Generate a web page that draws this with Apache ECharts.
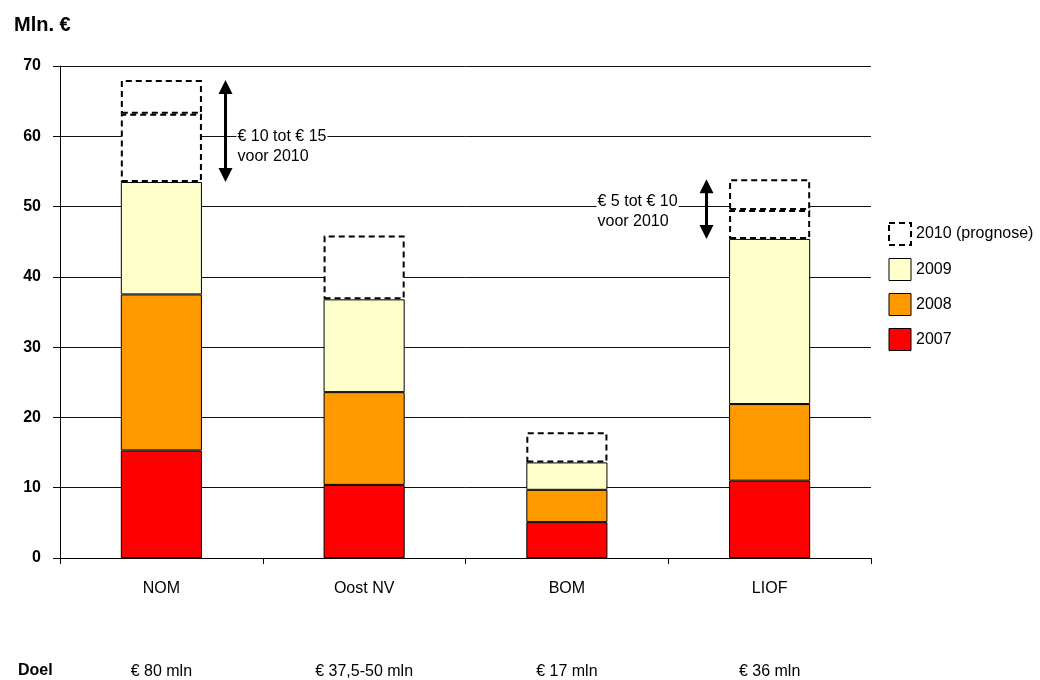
<!DOCTYPE html>
<html>
<head>
<meta charset="utf-8">
<script src="https://cdn.jsdelivr.net/npm/echarts@6/dist/echarts.min.js"></script>
<style>html,body{margin:0;padding:0;background:#fff}#c{width:1040px;height:680px}</style>
</head>
<body>
<div id="c"></div>
<script>
// ---- data ----
const categories = ['NOM', 'Oost NV', 'BOM', 'LIOF'];
const goals = ['€ 80 mln', '€ 37,5-50 mln', '€ 17 mln', '€ 36 mln'];
const v2007 = [15.3, 10.4, 5.1, 11.0];
const v2008 = [22.2, 13.2, 4.6, 10.9];
const v2009 = [16.0, 13.2, 3.9, 23.5];
const v2010low = [9.7, 9.1, 4.3, 4.1];      // prognose, lower estimate
const v2010high = [4.8, '-', '-', 4.4];     // prognose, extra up to upper estimate
const yTicks = [0, 10, 20, 30, 40, 50, 60, 70];
// annotations: category, arrow from/to value, text, value the first text line sits at
const annCats = ['NOM', 'LIOF'];
const annFrom = [53.5, 45.4];
const annTo = [68.0, 53.9];
const annLabelAt = [60, 50.7];
const annText = ['€ 10 tot € 15\nvoor 2010', '€ 5 tot € 10\nvoor 2010'];

const FONT = '"Liberation Sans", Arial, Helvetica, sans-serif';
const annSide = [1, -1];
const annData = annCats.map((c, i) => [categories.indexOf(c), annFrom[i], annTo[i], annLabelAt[i]]);

const chart = echarts.init(document.getElementById('c'), null, {renderer: 'canvas'});
const solid = (color) => ({color: color, borderColor: '#000', borderWidth: 1});
const dashed = {color: '#fff', borderColor: '#000', borderWidth: 2, borderType: [6, 4]};

chart.setOption({
  animation: false,
  textStyle: {fontFamily: FONT, color: '#000'},
  title: {
    text: 'Mln. €', left: 9, top: 10,
    textStyle: {fontFamily: FONT, fontSize: 20, fontWeight: 'bold', color: '#000'}
  },
  graphic: [{
    type: 'text', left: 18, top: 663,
    style: {text: 'Doel', font: 'bold 16px ' + FONT, fill: '#000'}
  }],
  legend: {
    orient: 'vertical', left: 883, top: 217,
    itemWidth: 22, itemHeight: 22, itemGap: 12, icon: 'rect',
    textStyle: {fontFamily: FONT, fontSize: 16, color: '#000'},
    data: [
      {name: '2010 (prognose)', itemStyle: dashed},
      {name: '2009', itemStyle: solid('#FFFFCC')},
      {name: '2008', itemStyle: solid('#FF9900')},
      {name: '2007', itemStyle: solid('#FF0000')}
    ]
  },
  grid: {left: 60, right: 169, top: 66, bottom: 121, containLabel: false},
  xAxis: [{
    type: 'category', data: categories,
    axisLine: {lineStyle: {color: '#000', width: 1}},
    axisTick: {show: true, length: 6, lineStyle: {color: '#000'}},
    axisLabel: {fontFamily: FONT, fontSize: 16, color: '#000', margin: 23}
  }, {
    type: 'category', data: goals, position: 'bottom', offset: 84,
    axisLine: {show: false}, axisTick: {show: false},
    axisLabel: {fontFamily: FONT, fontSize: 16, color: '#000', margin: 22}
  }],
  yAxis: {
    type: 'value', min: 0, max: 70, interval: 10,
    axisLine: {show: true, lineStyle: {color: '#000', width: 1}},
    axisTick: {show: true, length: 7, lineStyle: {color: '#000'}},
    axisLabel: {fontFamily: FONT, fontSize: 16, fontWeight: 'bold', color: '#000', margin: 19,
      formatter: v => yTicks.indexOf(v) >= 0 ? String(v) : ''},
    splitLine: {show: true, lineStyle: {color: '#111', width: 1}}
  },
  series: [
    {name: '2007', type: 'bar', stack: 's', barWidth: '40%', data: v2007, itemStyle: solid('#FF0000')},
    {name: '2008', type: 'bar', stack: 's', data: v2008, itemStyle: solid('#FF9900')},
    {name: '2009', type: 'bar', stack: 's', data: v2009, itemStyle: solid('#FFFFCC')},
    {name: '2010 (prognose)', type: 'bar', stack: 's', data: v2010low, itemStyle: dashed},
    {name: '2010 (prognose)', type: 'bar', stack: 's', data: v2010high, itemStyle: dashed},
    {
      name: 'annotaties', type: 'custom', clip: false, z: 5,
      data: annData,
      renderItem: function (params, api) {
        const idx = api.value(0);
        const lo = api.coord([idx, api.value(1)]);
        const hi = api.coord([idx, api.value(2)]);
        const lab = api.coord([idx, api.value(3)]);
        const cw = api.size([1, 0])[0];
        const side = annSide[params.dataIndex];
        const x = Math.round(lo[0] + side * cw * 0.315) + 0.5;
        const hh = 14, hw = 7;
        const tx = side > 0 ? x + 11 : x - 110;
        return {
          type: 'group',
          children: [
            {type: 'line', shape: {x1: x, y1: hi[1] + hh - 1, x2: x, y2: lo[1] - hh + 1},
              style: {stroke: '#000', lineWidth: 3}},
            {type: 'polygon', shape: {points: [[x, hi[1]], [x - hw, hi[1] + hh], [x + hw, hi[1] + hh]]},
              style: {fill: '#000'}},
            {type: 'polygon', shape: {points: [[x, lo[1]], [x - hw, lo[1] - hh], [x + hw, lo[1] - hh]]},
              style: {fill: '#000'}},
            {type: 'text', x: tx, y: lab[1] - 10,
              style: {text: annText[params.dataIndex], font: '16px ' + FONT, fill: '#000',
                lineHeight: 20, align: 'left', verticalAlign: 'top',
                backgroundColor: '#fff', padding: [0, 1, 0, 1]}}
          ]
        };
      }
    }
  ]
});
</script>
</body>
</html>
